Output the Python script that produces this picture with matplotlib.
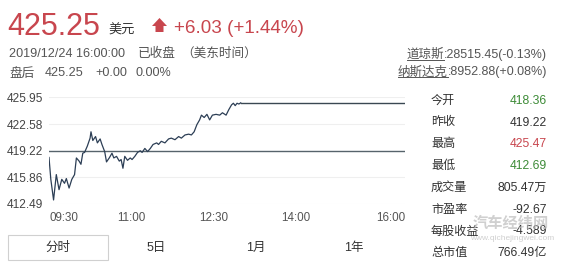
import matplotlib
matplotlib.use("Agg")
import matplotlib.pyplot as plt
from matplotlib.patches import Polygon, Rectangle
from matplotlib.lines import Line2D

W, H = 562, 268
plt.rcParams['font.family'] = ['Liberation Sans', 'Noto Sans CJK SC']

# intraday: minutes after 09:30 and price (early close 13:00 on Dec 24)
minutes = [0, 2, 5, 8, 11, 14, 17, 19, 22, 25, 28, 30, 33, 35, 37, 39, 42, 45, 46, 48,
           51, 53, 56, 58, 61, 63, 66, 69, 71, 74, 77, 79, 81, 83, 86, 89, 91, 94, 97, 100,
           102, 105, 108, 111, 114, 118, 120, 123, 127, 131, 134, 138, 142, 145, 149, 153,
           156, 159, 162, 165, 167, 170, 173, 176, 179, 183, 187, 190, 194, 197, 200, 202,
           204, 206, 208, 210]
prices = [418.36, 415.6, 413.0, 416.2, 414.3, 415.6, 415.1, 415.7, 414.5, 415.6, 416.2, 418.3,
          417.9, 417.5, 418.9, 419.0, 419.8, 420.8, 421.6, 420.5, 421.0, 420.2, 420.7, 420.0,
          419.1, 417.8, 418.3, 418.9, 418.3, 418.5, 417.9, 418.1, 417.0, 418.5, 418.0, 418.3,
          418.1, 418.5, 419.0, 419.2, 419.0, 419.5, 419.1, 419.5, 420.0, 420.2, 420.0, 420.4,
          420.2, 420.7, 420.8, 420.6, 421.0, 420.8, 421.2, 421.3, 421.2, 421.6, 422.5, 423.1,
          423.7, 423.4, 423.8, 423.1, 423.7, 423.8, 423.7, 424.0, 423.7, 424.4, 425.0, 425.2,
          424.9, 425.2, 425.1, 425.25]
session_end = 390
last_price = 425.25
prev_close = 419.22

y_ticks = [412.49, 415.86, 419.22, 422.58, 425.95]
x_ticks = [0, 90, 180, 270, 390]
x_labels = ["09:30", "11:00", "12:30", "14:00", "16:00"]

stat_labels = ["今开", "昨收", "最高", "最低", "成交量", "市盈率", "每股收益", "总市值"]
stat_values = ["418.36", "419.22", "425.47", "412.69", "805.47万", "-92.67", "-4.589", "766.49亿"]

index_names = ["道琼斯", "纳斯达克"]
index_quotes = [":28515.45(-0.13%)", ":8952.88(+0.08%)"]

tabs = ["分时", "5日", "1月", "1年"]

RED = "#c8464e"
GREEN = "#3d8b37"
TXT = "#333333"
GRAY = "#555555"


def fx(x):
    return x / W


def fy(y):
    return 1 - y / H


fig = plt.figure(figsize=(W / 100, H / 100), dpi=100)
fig.patch.set_facecolor("white")

# chart
ax = fig.add_axes([fx(49), fy(204), (405 - 49) / W, (204 - 97.3) / H])
for t in y_ticks:
    if t != prev_close:
        ax.axhline(t, color="#efefef", lw=0.8, zorder=0)
ax.axhline(prev_close, color="#56636b", lw=1.0, zorder=1)
ax.plot(minutes, prices, color="#2c3e55", lw=0.9, zorder=3)
ax.plot([minutes[-1], session_end], [last_price, last_price], color="#3a4852", lw=1.0, zorder=3)
ax.set_xlim(0, session_end)
ax.set_ylim(y_ticks[0], y_ticks[-1])
for s in ax.spines.values():
    s.set_visible(False)
ax.set_yticks(y_ticks, [f"{v:.2f}" for v in y_ticks])
ax.set_xticks(x_ticks, x_labels)
ax.tick_params(axis="y", length=0, pad=4, labelsize=8.6, labelcolor="#444444")
ax.tick_params(axis="x", length=0, pad=6, labelsize=8.4, labelcolor="#555555")
xl = ax.get_xticklabels()
xl[0].set_ha("left")
xl[-1].set_ha("right")

# header
fig.text(fx(7), fy(35), "425.25", fontsize=22, color=RED, va="baseline")
fig.text(fx(108), fy(34), "美元", fontsize=9.5, color=TXT, va="baseline")
arrow = Polygon([(fx(159.5), fy(18)), (fx(167), fy(26)), (fx(163.5), fy(26)), (fx(163.5), fy(32)),
                 (fx(155.5), fy(32)), (fx(155.5), fy(26)), (fx(152), fy(26))],
                closed=True, transform=fig.transFigure, facecolor=RED, edgecolor="none")
fig.add_artist(arrow)
fig.text(fx(174), fy(33), "+6.03 (+1.44%)", fontsize=13.6, color=RED, va="baseline")

fig.text(fx(9), fy(57), "2019/12/24 16:00:00", fontsize=9.1, color=GRAY, va="baseline")
fig.text(fx(138), fy(57), "已收盘", fontsize=9.1, color=GRAY, va="baseline")
fig.text(fx(181), fy(57), "（美东时间）", fontsize=9.1, color=GRAY, va="baseline")
fig.text(fx(9), fy(76.5), "盘后", fontsize=9.1, color=GRAY, va="baseline")
fig.text(fx(45), fy(76.5), "425.25", fontsize=9.1, color=GRAY, va="baseline")
fig.text(fx(95), fy(76.5), "+0.00", fontsize=9.1, color=GRAY, va="baseline")
fig.text(fx(136), fy(76.5), "0.00%", fontsize=9.1, color=GRAY, va="baseline")

# market indices, names underlined
renderer = fig.canvas.get_renderer()
for i, (name, quote) in enumerate(zip(index_names, index_quotes)):
    yb = 58 + i * 17.5
    q = fig.text(fx(547), fy(yb), quote, fontsize=9, color=GRAY, ha="right", va="baseline")
    left = q.get_window_extent(renderer).x0
    n = fig.text(left / W, fy(yb), name, fontsize=9, color=GRAY, ha="right", va="baseline")
    bb = n.get_window_extent(renderer)
    fig.add_artist(Line2D([bb.x0 / W, bb.x1 / W], [fy(yb + 1.8)] * 2, color=GRAY, lw=0.7,
                          transform=fig.transFigure))

# stats table
for i, (lab, val) in enumerate(zip(stat_labels, stat_values)):
    y = 100.7 + i * 21.8
    color = TXT
    if i < 4:
        v = float(val)
        color = GREEN if v < prev_close else (RED if v > prev_close else TXT)
    fig.text(fx(431), fy(y), lab, fontsize=8.7, color=TXT, va="center")
    fig.text(fx(547), fy(y), val, fontsize=8.7, color=color, ha="right", va="center")

# watermark
fig.text(fx(511), fy(224), "汽车经纬网", fontsize=11, color="#bdbdbd", ha="center", va="center",
         fontweight="bold", alpha=0.7)
fig.text(fx(512), fy(239), "www.qichejingwei.com", fontsize=6, color="#c4c4c4", ha="center",
         va="center", alpha=0.8)

# period tabs
fig.add_artist(Rectangle((fx(8.3), fy(260)), 100 / W, 25 / H, transform=fig.transFigure,
                         facecolor="white", edgecolor="#d0d0d0", lw=0.8))
for i, tab in enumerate(tabs):
    fig.text(fx(58 + i * 98.7), fy(247.5), tab, fontsize=9, color=TXT, ha="center", va="center")

fig.savefig("out.png", dpi=100, facecolor="white")
